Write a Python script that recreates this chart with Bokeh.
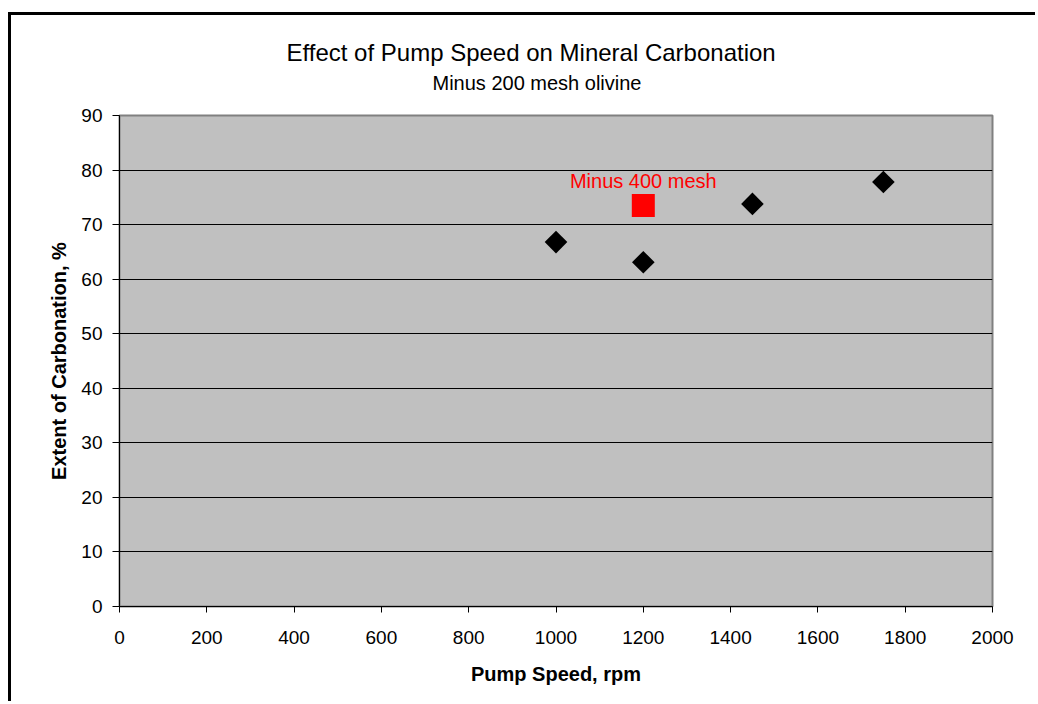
import math

from bokeh.core.properties import value
from bokeh.embed import file_html
from bokeh.models import ColumnDataSource, FixedTicker, Range1d, Title
from bokeh.plotting import figure
from bokeh.resources import INLINE

# Carbonation tests, minus 200 mesh olivine
pump_speed = [1000, 1200, 1450, 1750]
carbonation = [66.8, 63.1, 73.8, 77.8]

# Single finer-grind test
fine_speed = [1200]
fine_carbonation = [73.5]
fine_label = ["Minus 400 mesh"]

x_ticks = [0, 200, 400, 600, 800, 1000, 1200, 1400, 1600, 1800, 2000]
y_ticks = [0, 10, 20, 30, 40, 50, 60, 70, 80, 90]

FONT = "Liberation Sans"

p = figure(
    width=1027,
    height=689,
    x_range=Range1d(0, 2000),
    y_range=Range1d(0, 90),
    output_backend="svg",
    toolbar_location=None,
    min_border_left=108,
    min_border_right=46,
    min_border_top=100,
    min_border_bottom=98,
    background_fill_color="#C0C0C0",
    border_fill_color="white",
)
p.title = None

# outer chart frame: a hard shadow gives the left and top edges
p.styles = {
    "margin-left": "11px",
    "margin-top": "15px",
    "box-shadow": "-3px -3px 0px 0px black",
}

p.outline_line_color = "#808080"
p.outline_line_width = 2

p.xgrid.visible = False
p.ygrid.grid_line_color = "black"
p.ygrid.grid_line_width = 1

p.xaxis.ticker = FixedTicker(ticks=x_ticks)
p.yaxis.ticker = FixedTicker(ticks=y_ticks)

for ax in (p.xaxis[0], p.yaxis[0]):
    ax.axis_line_color = "black"
    ax.major_tick_line_color = "black"
    ax.minor_tick_line_color = None
    ax.major_tick_in = 0
    ax.major_label_text_font = FONT
    ax.major_label_text_font_size = "19px"
    ax.major_label_text_color = "black"
    ax.axis_label_text_font = FONT
    ax.axis_label_text_font_size = "20px"
    ax.axis_label_text_font_style = "bold"
    ax.axis_label_text_color = "black"

p.xaxis.major_tick_out = 6
p.yaxis.major_tick_out = 7
p.xaxis.major_label_standoff = 18
p.yaxis.major_label_standoff = 10
p.xaxis.axis_label = "Pump Speed, rpm"
p.yaxis.axis_label = "Extent of Carbonation, %"
p.xaxis.axis_label_standoff = 16
p.yaxis.axis_label_standoff = 8

# gap between the subtitle and the plot area
p.add_layout(
    Title(text=" ", standoff=17, text_font=FONT, text_font_size="1px"),
    "above",
)
p.add_layout(
    Title(text="Minus 200 mesh olivine", align="left", offset=313,
          standoff=4, text_font=FONT, text_font_size="20px",
          text_font_style="normal", text_color="black"),
    "above",
)
p.add_layout(
    Title(text="Effect of Pump Speed on Mineral Carbonation", align="left",
          offset=167, standoff=3, text_font=FONT, text_font_size="24px",
          text_font_style="normal", text_color="black"),
    "above",
)

src = ColumnDataSource(data=dict(x=pump_speed, y=carbonation))
p.scatter("x", "y", source=src, marker="square", size=16,
          angle=math.pi / 4, fill_color="black", line_color=None)

fine_src = ColumnDataSource(data=dict(x=fine_speed, y=fine_carbonation,
                                      label=fine_label))
p.scatter("x", "y", source=fine_src, marker="square", size=23,
          fill_color="#FF0000", line_color=None)
p.text("x", "y", text="label", source=fine_src, y_offset=-25,
       text_align="center", text_baseline="alphabetic",
       text_font=value(FONT), text_font_size="20px", text_color="#FF0000")

open("out.html", "w").write(file_html(p, INLINE))
